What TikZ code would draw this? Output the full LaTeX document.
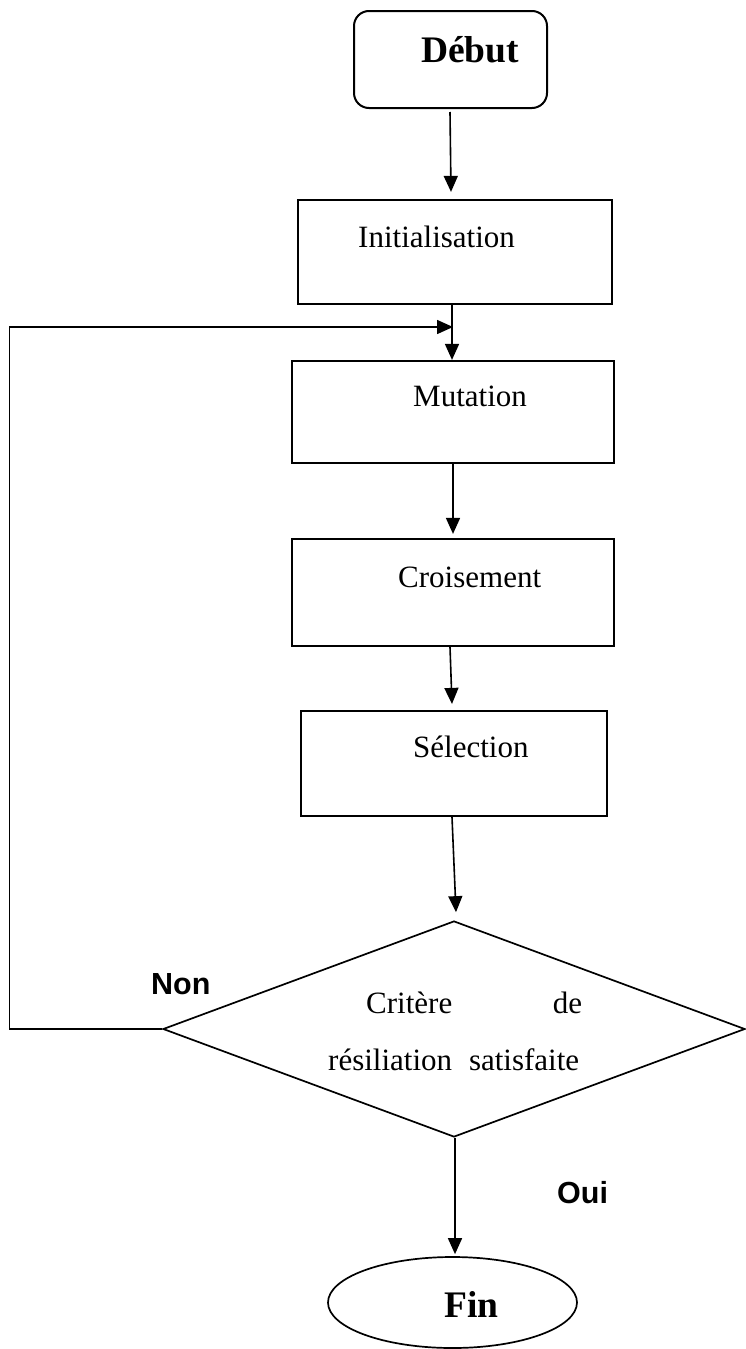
\documentclass[tikz,border=0pt]{standalone}
\usepackage{fontspec}
\setmainfont{Liberation Serif}
\newfontfamily\arialfont{Liberation Sans}
\usetikzlibrary{shapes.geometric,arrows.meta,calc}
\tikzset{
  boxnode/.style={draw, line width=2.2pt, rectangle, inner sep=0pt},
  txt/.style={inner sep=0pt, anchor=base west, font=\fontsize{31}{37}\selectfont},
  bigtxt/.style={inner sep=0pt, anchor=base west, font=\fontsize{37.5}{44}\selectfont\bfseries},
  lbl/.style={inner sep=0pt, anchor=base west, font=\arialfont\fontsize{30.5}{36}\selectfont\bfseries},
  arr/.style={line width=1.6pt, -{Triangle[length=16pt,width=14pt]}}
}
\begin{document}
\begin{tikzpicture}[x=1pt,y=-1pt]
\useasboundingbox (0,0) rectangle (745,1349);
% nodes
\node[draw, line width=2pt, rectangle, rounded corners=15pt, inner sep=0pt,
      minimum width=193pt, minimum height=97pt] (debut) at (450.5,59.5) {};
\node[bigtxt] (tdebut) at (421,62) {Début};

\node[boxnode, minimum width=314pt, minimum height=104pt] (init) at (455,252) {};
\node[txt] (tinit) at (358,247) {Initialisation};

\node[boxnode, minimum width=322pt, minimum height=102pt] (mut) at (453,412) {};
\node[txt] (tmut) at (413,406) {Mutation};

\node[boxnode, minimum width=322pt, minimum height=107pt] (cro) at (453,592.5) {};
\node[txt] (tcro) at (398,587) {Croisement};

\node[boxnode, minimum width=306pt, minimum height=105pt] (sel) at (454,763.5) {};
\node[txt] (tsel) at (413,757) {Sélection};

\node[draw, line width=1.7pt, diamond, aspect=2.7, inner sep=0pt,
      minimum width=582pt, minimum height=216pt] (dec) at (454,1029) {};
\node[txt] (tcrit) at (366,1013) {\makebox[216pt][s]{Critère de}};
\node[txt] (tres) at (328,1070) {\makebox[251pt][s]{résiliation satisfaite}};

\node[draw, line width=1.7pt, ellipse, inner sep=0pt,
      minimum width=249pt, minimum height=91pt] (fin) at (452.5,1302.5) {};
\node[bigtxt] (tfin) at (444,1317) {Fin};

\node[lbl] (non) at (151,994) {Non};
\node[lbl] (oui) at (557,1203) {Oui};

% connectors
\draw[arr] ([xshift=-0.5pt,yshift=-3pt]debut.south) -- ([xshift=-4pt,yshift=7pt]init.north);
\draw[arr] ([xshift=-3pt]init.south) -- ([xshift=-1pt]mut.north);
\coordinate (lc) at (9.5,327);
\coordinate (lt) at (453,327);
\draw[arr] (dec.west) -| (lc) -- (lt);
\draw[arr] (mut.south) -- ([yshift=4pt]cro.north);
\draw[arr] ([xshift=-3pt]cro.south) -- ([xshift=-2pt,yshift=6pt]sel.north);
\draw[arr] ([xshift=-2pt]sel.south) -- ([xshift=2pt,yshift=8pt]dec.north);
\draw[arr] ([xshift=1pt]dec.south) -- ([xshift=2.5pt,yshift=2pt]fin.north);
\end{tikzpicture}
\end{document}
